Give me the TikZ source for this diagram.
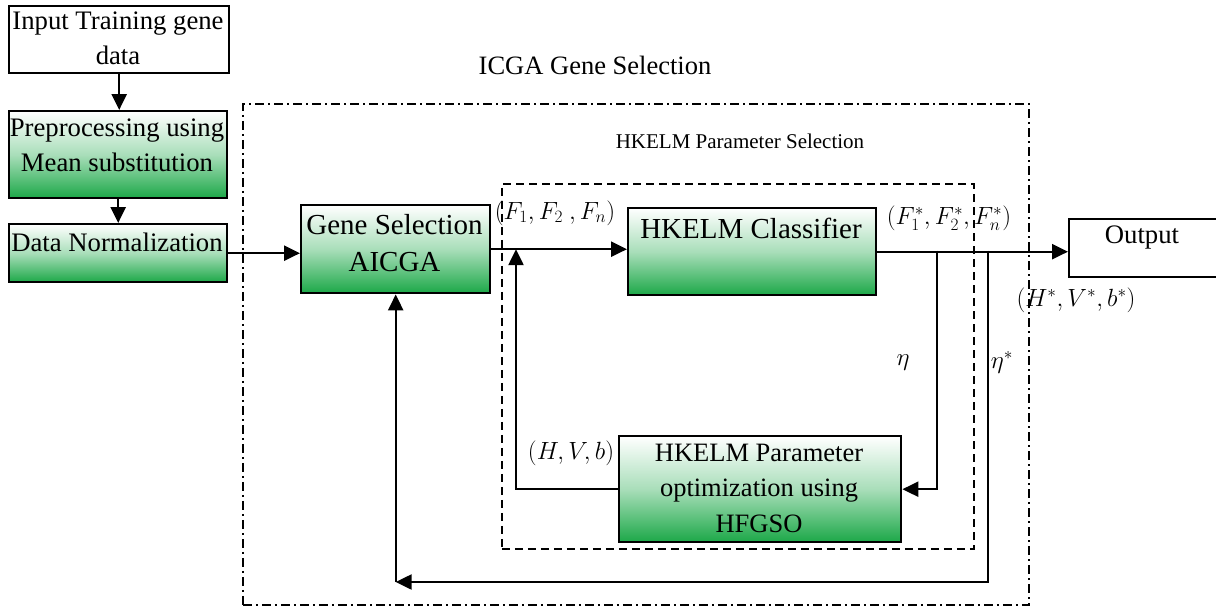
\documentclass[tikz,border=0pt]{standalone}
\usepackage{fontspec}
\setmainfont{Liberation Serif}
\usetikzlibrary{arrows.meta}
\definecolor{boxgreen}{RGB}{28,168,72}
\begin{document}
\begin{tikzpicture}[x=1pt,y=-1pt,
  box/.style={draw=black, line width=2.4pt, inner sep=0pt, anchor=north west},
  gbox/.style={box, top color=white, bottom color=boxgreen, middle color=boxgreen!38},
  wbox/.style={box, fill=white},
  txt/.style={font=\fontsize{26.7}{35}\selectfont, align=center, inner sep=0pt},
  ttl/.style={font=\fontsize{29}{37}\selectfont, align=center, inner sep=0pt},
  mth/.style={font=\fontsize{24}{28}\selectfont, inner sep=0pt},
  conn/.style={line width=2.4pt, draw=black},
  arr/.style={conn, -{Triangle[length=16pt,width=15pt]}},
  dframe/.style={draw=black, line width=1.8pt, dash pattern=on 8pt off 5pt, inner sep=0pt, anchor=north west},
  ddframe/.style={draw=black, line width=1.8pt, dash pattern=on 9pt off 4pt on 2pt off 4pt, inner sep=0pt, anchor=north west},
]
\useasboundingbox (0,0) rectangle (1216,608);

% frames
\node[ddframe, minimum width=786pt, minimum height=501pt] (outer) at (242,103) {};
\node[dframe, minimum width=472pt, minimum height=365pt] (inner) at (501,183) {};
\node[font=\fontsize{26.5}{30}\selectfont, inner sep=0pt] (outer-t) at (595,65) {ICGA Gene Selection};
\node[font=\fontsize{21}{24}\selectfont, inner sep=0pt] (inner-t) at (740,141) {HKELM Parameter Selection};

% left column
\node[wbox, minimum width=220pt, minimum height=67pt] (inp) at (8,5) {};
\node[txt] (inp-t) at (118,38) {Input Training gene\\data};
\node[gbox, minimum width=218pt, minimum height=87pt] (pre) at (8,110) {};
\node[txt] (pre-t) at (117,145) {Preprocessing using\\Mean substitution};
\node[gbox, minimum width=218pt, minimum height=58pt] (norm) at (8,223) {};
\node[txt] (norm-t) at (117,242) {Data Normalization};

% main blocks
\node[gbox, minimum width=189pt, minimum height=88pt] (gene) at (300,204) {};
\node[ttl] (gene-t) at (394.5,243) {Gene Selection\\AICGA};
\node[gbox, minimum width=248pt, minimum height=87pt] (hkc) at (627,207) {};
\node[ttl] (hkc-t) at (751,228) {HKELM Classifier};
\node[gbox, minimum width=282pt, minimum height=106pt] (par) at (618,435) {};
\node[txt, font=\fontsize{26.5}{35.5}\selectfont] (par-t) at (759,488) {HKELM Parameter\\optimization using\\HFGSO};
\node[wbox, minimum width=220pt, minimum height=58pt] (out) at (1068,218) {};
\node[txt] (out-t) at (1142,237) {Output};

% junctions
\coordinate (j1) at (937,250.5);
\coordinate (j2) at (988,250.5);
\coordinate (c2) at (988,582);
\coordinate (c3) at (gene.south |- c2);
\coordinate (fb) at (516,490);

% connectors
\draw[arr] (inp.south) -- (inp.south |- pre.north);
\draw[arr] (pre.south) -- (pre.south |- norm.north);
\draw[arr] (norm.east) -- (norm.east -| gene.west);
\draw[arr] (gene.east) -- (gene.east -| hkc.west);
\draw[arr] (hkc.east) -- (hkc.east -| out.west);
\draw[arr] (j1) -- (j1 |- par.east) -- (par.east);
\draw[arr] (par.west) -| (gene.east -| fb);
\draw[arr] (j2) -- (c2) -- (c3);
\draw[arr] (c3) -- (gene.south);

% labels
\node[mth] (lf) at (555,213) {$(F_1,F_2\ ,F_n)$};
\node[mth] (lfs) at (949,218) {$(F_1^*,F_2^*,F_n^*)$};
\node[mth] (lhs) at (1076,300) {$(H^*,V^*,b^*)$};
\node[mth] (lh) at (571,453) {$(H,V,b)$};
\node[mth] (leta) at (903,363) {$\eta$};
\node[mth] (letas) at (1002,362) {$\eta^*$};
\end{tikzpicture}
\end{document}
